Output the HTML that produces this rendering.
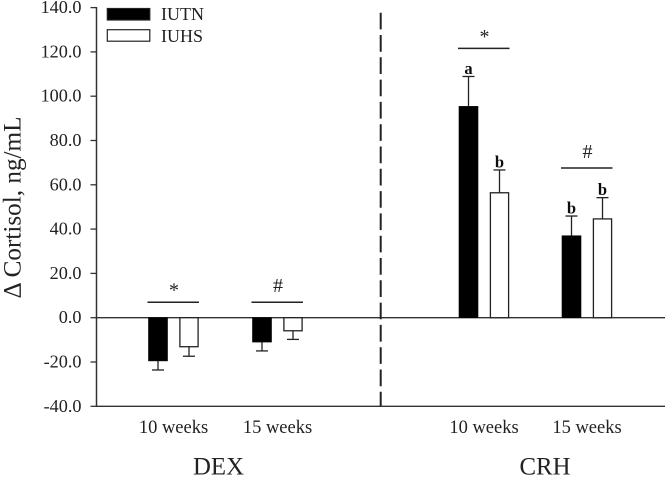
<!DOCTYPE html>
<html lang="en">
<head>
<meta charset="utf-8">
<title>Change in cortisol after DEX and CRH</title>
<style>
html,body{margin:0;padding:0;background:#fff;width:668px;height:477px;overflow:hidden}
svg{display:block}
text{font-family:"Liberation Serif","Times New Roman",serif;fill:#222}
.tick{font-size:18.2px;text-anchor:end}
.cat{font-size:18.5px;text-anchor:middle}
.group{font-size:24.8px;text-anchor:middle}
.leg{font-size:18px}
.letter{font-size:16.5px;font-weight:bold;text-anchor:middle;fill:#111}
.sig{font-size:20px;text-anchor:middle}
</style>
</head>
<body>
<svg id="chart" xmlns="http://www.w3.org/2000/svg" width="668" height="477" viewBox="0 0 668 477">
  <defs><filter id="soft" x="-5%" y="-5%" width="110%" height="110%"><feGaussianBlur stdDeviation="0.35"/></filter></defs>
  <g id="root" filter="url(#soft)">
    <rect x="0" y="0" width="668" height="477" fill="#fff"/>
    <g id="axes"></g>
    <g id="marks"></g>
    <line x1="380.7" y1="12.7" x2="380.7" y2="406" stroke="#222" stroke-width="2" stroke-dasharray="16.7 5.6"/>
    <text x="0" y="0" transform="translate(20.5,207.5) rotate(-90)" text-anchor="middle" font-size="25.2">Δ Cortisol, ng/mL</text>
    <text class="group" x="218.5" y="474.5">DEX</text>
    <text class="group" x="545" y="474.5">CRH</text>
    <rect x="107.3" y="8.5" width="42.5" height="11.5" fill="#000" stroke="#222" stroke-width="1.2"/>
    <text class="leg" x="161" y="20">IUTN</text>
    <rect x="107.3" y="29.7" width="42.5" height="11.5" fill="#fff" stroke="#222" stroke-width="1.2"/>
    <text class="leg" x="161" y="42">IUHS</text>
  </g>
</svg>
<script>
var yTicks = [140, 120, 100, 80, 60, 40, 20, 0, -20, -40];
var categories = ["10 weeks", "15 weeks", "10 weeks", "15 weeks"];
var iutnValues = [-19.5, -11, 95.4, 37];
var iuhsValues = [-13.1, -5.9, 56.4, 44.6];
var iutnErrors = [4.1, 4, 13.5, 8.9];
var iuhsErrors = [4.3, 3.9, 10.3, 9.6];
var iutnLetters = ["", "", "a", "b"];
var iuhsLetters = ["", "", "b", "b"];
var sigMarks = ["*", "#", "*", "#"];
var sigLevels = [7, 7, 121.6, 67.6];

var NS = "http://www.w3.org/2000/svg";
var axes = document.getElementById("axes");
var marks = document.getElementById("marks");
function yPos(v) { return 317.7 - v * 2.215; }
function catX(i) { return [173.5, 277.5, 484, 587][i]; }
function make(tag, parent, attrs, txt) {
  var el = document.createElementNS(NS, tag);
  for (var k in attrs) el.setAttribute(k, attrs[k]);
  if (txt !== undefined) el.textContent = txt;
  parent.appendChild(el);
  return el;
}
var axisColor = "#333";
var el;
el = make("line", axes, {x1: 96.5, x2: 96.5, y1: yPos(140) - 0.6, y2: yPos(-40) + 0.6, stroke: axisColor, "stroke-width": 1.5});


el = make("line", axes, {x1: 96, x2: 665, y1: yPos(-40), y2: yPos(-40), stroke: axisColor, "stroke-width": 1.3});


el = make("line", axes, {x1: 96, x2: 665, y1: yPos(0), y2: yPos(0), stroke: axisColor, "stroke-width": 1.3});


yTicks.forEach(function (t) {
  var y = yPos(t);
  var tick = make("line", axes, {x1: 90.5, x2: 96.5, y1: y, y2: y, stroke: axisColor, "stroke-width": 1.3});
  
  
  var label = make("text", axes, {"class": "tick", x: 81.5, y: y + 5.5}, t.toFixed(1));
  
  
});
function drawBar(cx, value, err, filled, letter, series) {
  var y0 = yPos(0), y1 = yPos(value);
  var w = filled ? 19 : 18.2;
  var tip = yPos(value + (value < 0 ? -err : err));
  var whisker = make("line", marks, {x1: cx, x2: cx, y1: y1, y2: tip, stroke: "#222", "stroke-width": 1.3});
  
  
  var cap = make("line", marks, {x1: cx - 6, x2: cx + 6, y1: tip, y2: tip, stroke: "#222", "stroke-width": 1.3});
  
  
  var bar = make("rect", marks, {x: cx - w / 2, y: Math.min(y0, y1), width: w, height: Math.abs(y1 - y0),
    fill: filled ? "#000" : "#fff", stroke: filled ? "#000" : "#222", "stroke-width": filled ? 0.6 : 1.3});
  
  
  if (letter) {
    var lt = make("text", marks, {"class": "letter", x: cx, y: tip - 2.5}, letter);
    
    
  }
}
categories.forEach(function (c, i) {
  var cx = catX(i);
  drawBar(cx - 15.5, iutnValues[i], iutnErrors[i], true, iutnLetters[i], "iutn");
  drawBar(cx + 15.5, iuhsValues[i], iuhsErrors[i], false, iuhsLetters[i], "iuhs");
  var lab = make("text", axes, {"class": "cat", x: cx, y: 433}, c);
  
  
  var sy = yPos(sigLevels[i]);
  var bar = make("line", marks, {x1: cx - 26, x2: cx + 25.5, y1: sy, y2: sy, stroke: "#222", "stroke-width": 1.5});
  
  
  var s = make("text", marks, {"class": "sig", x: cx + 0.5, y: sy - (sigMarks[i] === "*" ? 5.5 : 10)}, sigMarks[i]);
  
  
});
</script>
</body>
</html>
